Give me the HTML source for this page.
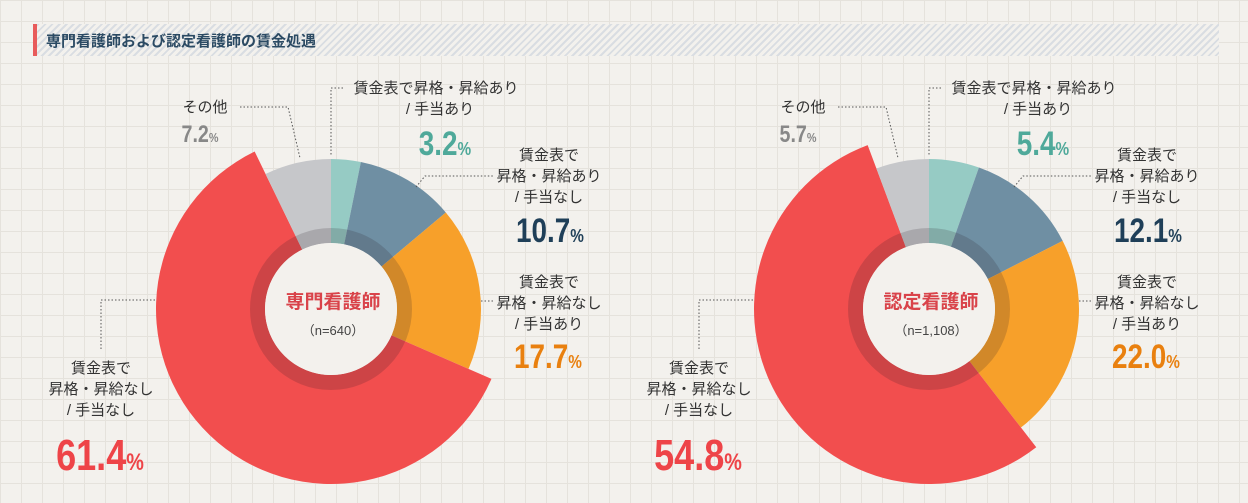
<!DOCTYPE html>
<html><head><meta charset="utf-8">
<style>
body{margin:0;width:1248px;height:503px;overflow:hidden;background:#f3f1ed;
background-image:linear-gradient(#e5e2dc 1px,transparent 1px),linear-gradient(90deg,#e5e2dc 1px,transparent 1px);background-size:21px 21px;
font-family:"Liberation Sans","Noto Sans CJK JP",sans-serif;}
#title{position:absolute;left:33px;top:24px;width:1182px;height:32px;
background:repeating-linear-gradient(135deg,#d9dde2 0 2px,#f3f1ed 2px 5px);border-left:4px solid #e85b5b;}
#title span{position:absolute;left:9px;top:6px;font-size:15px;font-weight:bold;color:#2b4a63;}
svg{position:absolute;left:0;top:0}
</style></head><body>
<div id="title"><span>専門看護師および認定看護師の賃金処遇</span></div>
<svg id="s" width="1248" height="503"></svg>
<script>
const categories=["賃金表で昇格・昇給あり/手当あり","賃金表で昇格・昇給あり/手当なし","賃金表で昇格・昇給なし/手当あり","賃金表で昇格・昇給なし/手当なし","その他"];
const valuesSenmon=[3.2,10.7,17.7,61.4,7.2];
const valuesNintei=[5.4,12.1,22.0,54.8,5.7];
const pctLabelsSenmon=["3.2","10.7","17.7","61.4","7.2"];
const pctLabelsNintei=["5.4","12.1","22.0","54.8","5.7"];
const colors=["#96cbc4","#6f8fa3","#f7a02a","#f24e4e","#c6c7ca"];
const NS="http://www.w3.org/2000/svg";
const svg=document.getElementById('s');
function mk(t,a,p){const e=document.createElementNS(NS,t);for(const k in a)e.setAttribute(k,a[k]);(p||svg).appendChild(e);return e;}
function pt(cx,cy,r,a){return [cx+r*Math.sin(a),cy-r*Math.cos(a)];}
function arc(cx,cy,r0,r1,a0,a1){const l=(a1-a0)>Math.PI?1:0;const p1=pt(cx,cy,r1,a0),p2=pt(cx,cy,r1,a1),p3=pt(cx,cy,r0,a1),p4=pt(cx,cy,r0,a0);
return `M${p1}A${r1},${r1} 0 ${l} 1 ${p2}L${p3}A${r0},${r0} 0 ${l} 0 ${p4}Z`;}
function donut(cx,cy,vals,name,n){
  const tot=vals.reduce((a,b)=>a+b,0);let a=0;
  const g=mk('g',{});
  
  
  vals.forEach((v,i)=>{const a1=a+v/tot*2*Math.PI;
    const ro=i==3?175:150;
    const p=mk('path',{d:arc(cx,cy,66,ro,a,a1),fill:colors[i]},g);
    
    
    a=a1;});
  mk('circle',{cx:cx,cy:cy,r:73.5,fill:'none',stroke:'rgba(40,30,40,0.18)','stroke-width':15},g);
  mk('circle',{cx:cx,cy:cy,r:66,fill:'#f3f1ed'},g);
  const t=mk('text',{x:cx+2,y:cy-1,'text-anchor':'middle','font-size':19,'font-weight':'bold',fill:'#d9434a'},g);t.textContent=name;
  
  const t2=mk('text',{x:cx+2,y:cy+26,'text-anchor':'middle','font-size':13,fill:'#444'},g);t2.textContent='（n='+n+'）';
  
}
function txt(x,y,s,o){const t=mk('text',Object.assign({x:x,y:y,'text-anchor':'middle','font-size':15,fill:'#333'},o||{}));t.textContent=s;
  return t;}
function pct(x,y,s,col,size){const t=mk('text',{x:x,y:y,'text-anchor':'middle','font-size':size,'font-weight':'bold',fill:col,transform:`translate(${x},0) scale(0.82,1) translate(${-x},0)`});
  t.textContent=s;const ts=mk('tspan',{'font-size':size*0.55},t);ts.textContent='%';
  }
function dots(d){mk('path',{d:d,fill:'none',stroke:'#555','stroke-width':1,'stroke-dasharray':'1.5,2'});}
function labels(dx,P,cx){
  dots(`M${240+dx},107H${288+dx}L${300+dx},158`);
  txt(205+dx,112,'その他');pct(200+dx,142,P[4],'#888',24);
  dots(`M${343+dx},88H${331+dx}V155`);
  txt(436+dx,93,'賃金表で昇格・昇給あり');txt(440+dx,114,'/ 手当あり');pct(445+dx,155,P[0],'#4fa99a',34);
  dots(`M${416+dx},187L${425+dx},176H${493+dx}`);
  txt(549+dx,160,'賃金表で');txt(549+dx,181,'昇格・昇給あり');txt(549+dx,202,'/ 手当なし');pct(550+dx,242,P[1],'#1f3f58',34);
  dots(`M${481+dx},301H${495+dx}`);
  txt(549+dx,287,'賃金表で');txt(549+dx,308,'昇格・昇給なし');txt(549+dx,329,'/ 手当あり');pct(548+dx,368,P[2],'#e9800f',34);
  dots(`M${155+dx},300H${101+dx}V350`);
  txt(101+dx,373,'賃金表で');txt(101+dx,394,'昇格・昇給なし');txt(101+dx,415,'/ 手当なし');pct(100+dx,470,P[3],'#ee4448',44);
}
donut(331,309,valuesSenmon,'専門看護師','640');
donut(929,309,valuesNintei,'認定看護師','1,108');
labels(0,pctLabelsSenmon);
labels(598,pctLabelsNintei);
</script>
</body></html>
